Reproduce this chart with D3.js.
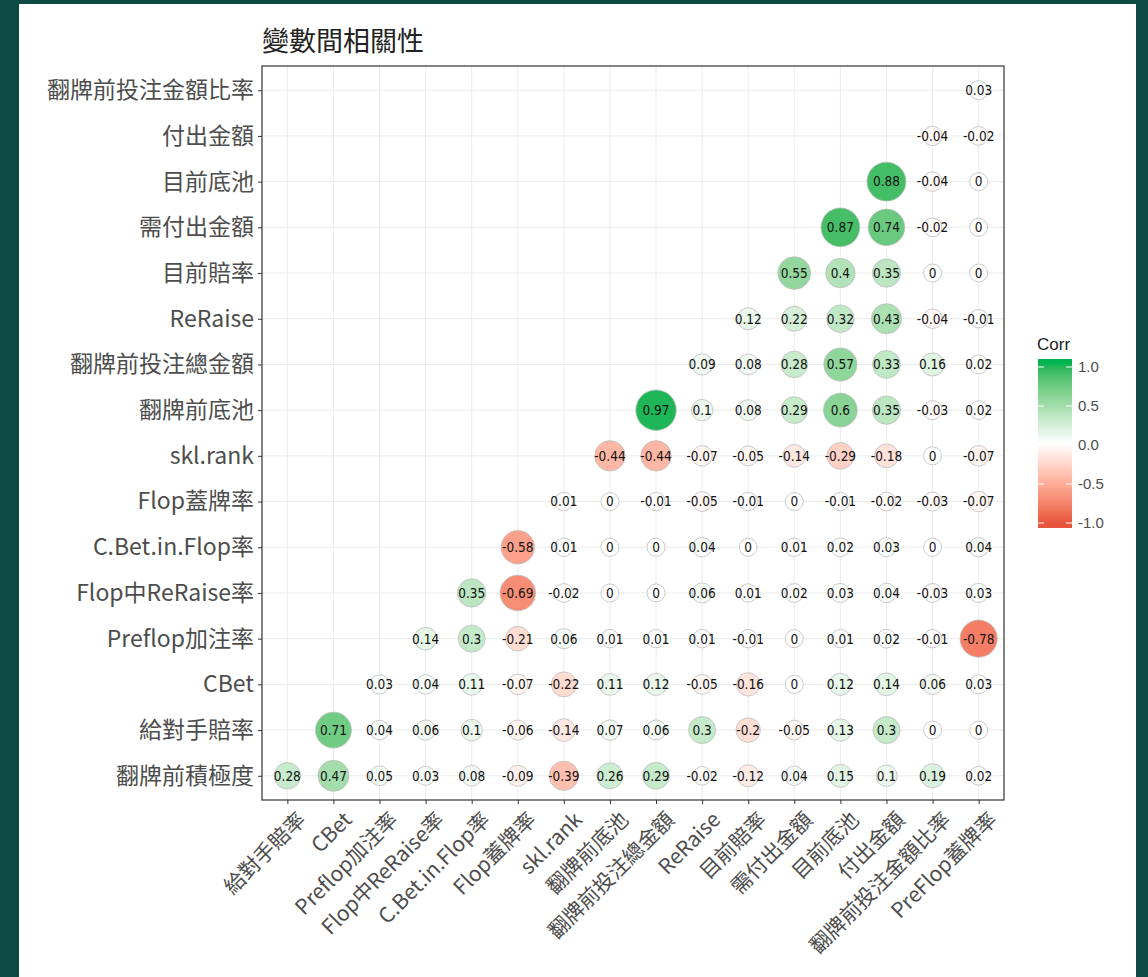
<!DOCTYPE html>
<html><head><meta charset="utf-8">
<script src="https://cdn.jsdelivr.net/npm/d3@7"></script>
<style>
html,body{margin:0;padding:0;background:#0c4a43;}
svg{display:block;}
</style></head>
<body>
<svg id="chart" width="1148" height="977"></svg>
<script>
// ---- data ----
const title = "變數間相關性";
const xCategories = ["給對手賠率","CBet","Preflop加注率","Flop中ReRaise率","C.Bet.in.Flop率","Flop蓋牌率","skl.rank","翻牌前底池","翻牌前投注總金額","ReRaise","目前賠率","需付出金額","目前底池","付出金額","翻牌前投注金額比率","PreFlop蓋牌率"];
// y categories from bottom to top
const yCategories = ["翻牌前積極度","給對手賠率","CBet","Preflop加注率","Flop中ReRaise率","C.Bet.in.Flop率","Flop蓋牌率","skl.rank","翻牌前底池","翻牌前投注總金額","ReRaise","目前賠率","需付出金額","目前底池","付出金額","翻牌前投注金額比率"];
// row k starts at x column k
const row0  = [0.28,0.47,0.05,0.03,0.08,-0.09,-0.39,0.26,0.29,-0.02,-0.12,0.04,0.15,0.1,0.19,0.02];
const row1  = [0.71,0.04,0.06,0.1,-0.06,-0.14,0.07,0.06,0.3,-0.2,-0.05,0.13,0.3,0,0];
const row2  = [0.03,0.04,0.11,-0.07,-0.22,0.11,0.12,-0.05,-0.16,0,0.12,0.14,0.06,0.03];
const row3  = [0.14,0.3,-0.21,0.06,0.01,0.01,0.01,-0.01,0,0.01,0.02,-0.01,-0.78];
const row4  = [0.35,-0.69,-0.02,0,0,0.06,0.01,0.02,0.03,0.04,-0.03,0.03];
const row5  = [-0.58,0.01,0,0,0.04,0,0.01,0.02,0.03,0,0.04];
const row6  = [0.01,0,-0.01,-0.05,-0.01,0,-0.01,-0.02,-0.03,-0.07];
const row7  = [-0.44,-0.44,-0.07,-0.05,-0.14,-0.29,-0.18,0,-0.07];
const row8  = [0.97,0.1,0.08,0.29,0.6,0.35,-0.03,0.02];
const row9  = [0.09,0.08,0.28,0.57,0.33,0.16,0.02];
const row10 = [0.12,0.22,0.32,0.43,-0.04,-0.01];
const row11 = [0.55,0.4,0.35,0,0];
const row12 = [0.87,0.74,-0.02,0];
const row13 = [0.88,-0.04,0];
const row14 = [-0.04,-0.02];
const row15 = [0.03];
const legendTicks = [1.0,0.5,0.0,-0.5,-1.0];
const legendTitle = "Corr";

const rows = [row0,row1,row2,row3,row4,row5,row6,row7,row8,row9,row10,row11,row12,row13,row14,row15];
const cells = [];
rows.forEach((r,k)=> r.forEach((v,j)=> cells.push({x:xCategories[k+j], y:yCategories[k], v})));

// ---- layout ----
const svg = d3.select("#chart");
svg.append("rect").attr("x",19).attr("y",4).attr("width",1117).attr("height",973).attr("fill","#fff");

const P = {left:262, right:1004, top:66, bottom:800};
const x = d3.scalePoint().domain(xCategories).range([P.left,P.right]).padding(0.55);
const y = d3.scalePoint().domain(yCategories).range([P.bottom,P.top]).padding(0.53);
const color = d3.scaleLinear().domain([-1,0,1]).range(["#E8553D","#ffffff","#00B451"]).interpolate(d3.interpolateLab);
const rad = d3.scaleRadial().domain([0,1]).range([9,20.5]);

const g = svg.append("g");
// grid
g.selectAll(".gx").data(xCategories).join("line")
  .attr("x1",d=>x(d)).attr("x2",d=>x(d)).attr("y1",P.top).attr("y2",P.bottom)
  .attr("stroke","#ebebeb").attr("stroke-width",1);
g.selectAll(".gy").data(yCategories).join("line")
  .attr("y1",d=>y(d)).attr("y2",d=>y(d)).attr("x1",P.left).attr("x2",P.right)
  .attr("stroke","#ebebeb").attr("stroke-width",1);

// circles
g.selectAll("circle.c").data(cells).join("circle")
  .attr("cx",d=>x(d.x)).attr("cy",d=>y(d.y)).attr("r",d=>rad(Math.abs(d.v)))
  .attr("fill",d=>color(d.v)).attr("stroke","#bdbdbd").attr("stroke-width",0.8);
g.selectAll("text.v").data(cells).join("text")
  .attr("x",d=>x(d.x)).attr("y",d=>y(d.y)).attr("dy","0.36em")
  .attr("text-anchor","middle")
  .style("font-family","'Liberation Sans Narrow','DejaVu Sans Condensed','Liberation Sans',sans-serif")
  .style("font-size","13.5px").attr("fill","#111")
  .text(d=>String(d.v));

// panel border
svg.append("rect").attr("x",P.left).attr("y",P.top).attr("width",P.right-P.left).attr("height",P.bottom-P.top)
  .attr("fill","none").attr("stroke","#333").attr("stroke-width",1.2);

// axes
const font = "'Noto Sans CJK TC','Liberation Sans',sans-serif";
const yAxis = svg.append("g").attr("transform",`translate(${P.left},0)`).call(d3.axisLeft(y).tickSize(4).tickPadding(4));
yAxis.select(".domain").remove();
yAxis.selectAll("line").attr("stroke","#333");
yAxis.selectAll("text").style("font-family",font).style("font-size","23px").attr("fill","#4d4d4d");

const xAxis = svg.append("g").attr("transform",`translate(0,${P.bottom})`).call(d3.axisBottom(x).tickSize(4));
xAxis.select(".domain").remove();
xAxis.selectAll("line").attr("stroke","#333");
xAxis.selectAll("text")
  .style("font-family",font).style("font-size","21px").attr("fill","#4d4d4d")
  .attr("text-anchor","end").attr("y",0).attr("dy","0.75em")
  .attr("transform","translate(8,10) rotate(-45)");

// title
svg.append("text").attr("x",262).attr("y",51).text(title)
  .style("font-family",font).style("font-size","27px").attr("fill","#222");

// legend
const L = {x:1038, w:34, top:359, bottom:528};
const ly = d3.scaleLinear().domain([-1,1]).range([523,367]);
const defs = svg.append("defs");
const grad = defs.append("linearGradient").attr("id","lg").attr("x1",0).attr("x2",0).attr("y1",1).attr("y2",0);
d3.range(-1.06,1.0601,0.02).forEach(v=>{
  grad.append("stop").attr("offset",((v+1.06)/2.12*100)+"%").attr("stop-color",color(Math.max(-1,Math.min(1,v))));
});
svg.append("rect").attr("x",L.x).attr("y",L.top).attr("width",L.w).attr("height",L.bottom-L.top).attr("fill","url(#lg)");
svg.selectAll(".lt").data(legendTicks).join("g").each(function(d){
  const s = d3.select(this);
  s.append("line").attr("x1",L.x).attr("x2",L.x+6).attr("y1",ly(d)).attr("y2",ly(d)).attr("stroke","#fff").attr("stroke-width",1);
  s.append("line").attr("x1",L.x+L.w-6).attr("x2",L.x+L.w).attr("y1",ly(d)).attr("y2",ly(d)).attr("stroke","#fff").attr("stroke-width",1);
  s.append("text").attr("x",L.x+L.w+6).attr("y",ly(d)).attr("dy","0.36em").text(d3.format(".1f")(d).replace("\u2212","-"))
    .style("font-family","'Liberation Sans',sans-serif").style("font-size","15px").attr("fill","#4d4d4d");
});
svg.append("text").attr("x",L.x-1).attr("y",350).text(legendTitle)
  .style("font-family","'Liberation Sans',sans-serif").style("font-size","17px").attr("fill","#222");
</script>
</body></html>
